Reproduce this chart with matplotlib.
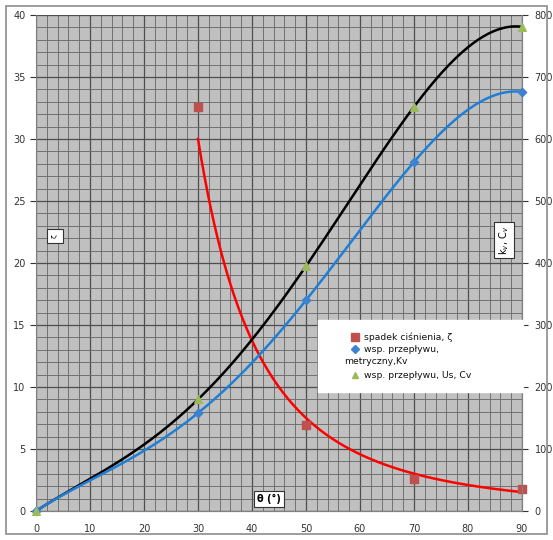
import numpy as np
import matplotlib
matplotlib.use("Agg")
import matplotlib.pyplot as plt
from matplotlib.ticker import MultipleLocator
from matplotlib.lines import Line2D
from matplotlib.patches import Rectangle

# --- data ---
angle_zeta = [30, 50, 70, 90]
zeta = [32.6, 6.9, 2.55, 1.8]            # spadek ciśnienia (left axis)

angle_flow = [0, 30, 50, 70, 90]
kv = [0, 158, 340, 563, 676]             # wsp. przepływu metryczny Kv (right axis)
cv = [0, 180, 395, 652, 781]             # wsp. przepływu Us Cv (right axis)

x_ticks = list(range(0, 91, 10))
left_ticks = list(range(0, 41, 5))
right_ticks = list(range(0, 801, 100))

legend_labels = ["spadek ciśnienia, ζ", "wsp. przepływu,", "metryczny,Kv", "wsp. przepływu, Us, Cv"]

plt.rcParams['font.family'] = ['DejaVu Sans']

W, H = 553, 540
def fx(px): return px / W
def fy(py): return 1 - py / H

fig = plt.figure(figsize=(W/100, H/100), dpi=100)
fig.patches.append(Rectangle((fx(6), fy(534)), 541/W, 528/H, transform=fig.transFigure,
                             fill=False, edgecolor='#8c8c8c', lw=1.2))
ax = fig.add_axes([fx(36), fy(511), 486/W, 496/H])
ax.set_facecolor('#c0c0c0')
ax.set_xlim(0, 90)
ax.set_ylim(0, 40)
ax.set_xticks(x_ticks)
ax.set_yticks(left_ticks)
ax.xaxis.set_minor_locator(MultipleLocator(2))
ax.yaxis.set_minor_locator(MultipleLocator(1))
ax.grid(which='minor', color='#6c6c6c', lw=0.65, ls='-')
ax.grid(which='major', color='#4e4e4e', lw=0.9, ls='-')
ax.set_axisbelow(True)
ax.tick_params(which='minor', length=0)
ax.tick_params(which='major', labelsize=7, colors='#333333', length=4, width=0.8)
ax.tick_params(axis='x', length=0, pad=9)
ax.spines['top'].set_visible(False)
for s in ['left', 'bottom', 'right']:
    ax.spines[s].set_color('#808080')

# power trendline for zeta (like Excel's power trend)
lx, ly = np.log(angle_zeta), np.log(zeta)
b, lna = np.polyfit(lx, ly, 1)
xs = np.linspace(angle_zeta[0], angle_zeta[-1], 200)
ax.plot(xs, np.exp(lna) * xs ** b, color='#ff0000', lw=1.8, zorder=3)
ax.scatter(angle_zeta, zeta, marker='s', s=40, color='#c0504d', zorder=4, clip_on=False)

ax2 = ax.twinx()
ax2.set_ylim(0, 800)
ax2.set_yticks(right_ticks)
ax2.tick_params(labelsize=7, colors='#333333', length=4, width=0.8, pad=5)
for s in ['top', 'left']:
    ax2.spines[s].set_visible(False)
ax2.spines['right'].set_color('#808080')
ax2.spines['bottom'].set_color('#808080')

# polynomial trendlines (order 4) for the flow coefficients
xf = np.linspace(0, 90, 300)
pc = np.polyfit(angle_flow, cv, 4)
pk = np.polyfit(angle_flow, kv, 4)
ax2.plot(xf, np.polyval(pc, xf), color='black', lw=1.8, zorder=3)
ax2.plot(xf, np.polyval(pk, xf), color='#1f7fd6', lw=1.8, zorder=3)
ax2.scatter(angle_flow, kv, marker='D', s=18, color='#3c82d0', zorder=4, clip_on=False)
ax2.scatter(angle_flow, cv, marker='^', s=30, color='#9bbb59', zorder=4, clip_on=False)

# axis title boxes
fig.text(fx(269), fy(499), "θ (°)", fontsize=7, fontweight='bold', ha='center', va='center',
         bbox=dict(boxstyle='square,pad=0.35', fc='white', ec='#333333', lw=0.8))
fig.text(fx(55), fy(236), "ζ", fontsize=5, rotation=90, ha='center', va='center',
         bbox=dict(boxstyle='square,pad=0.7', fc='white', ec='#333333', lw=0.8))
fig.text(fx(504), fy(240), "k$_v$, C$_v$", fontsize=7, rotation=90, ha='center', va='center',
         bbox=dict(boxstyle='square,pad=0.3', fc='white', ec='#333333', lw=0.8))

# legend (drawn manually so the wrapped line starts at the left like in the reference)
fig.patches.append(Rectangle((fx(318), fy(392)), 205/W, 72/H, transform=fig.transFigure,
                             fc='white', ec='white', zorder=5))
leg_markers = [('s', '#c0504d', 6, 337), ('D', '#3c82d0', 4, 349), ('^', '#9bbb59', 5, 375)]
for m, c, ms, py in leg_markers:
    fig.add_artist(Line2D([fx(355)], [fy(py)], marker=m, color=c, ms=ms, ls='none',
                          transform=fig.transFigure, zorder=6))
text_pos = [(364, 337), (364, 349), (344, 362), (364, 375)]
for lab, (px, py) in zip(legend_labels, text_pos):
    fig.text(fx(px), fy(py), lab, fontsize=6.7, ha='left', va='center', color='#111111', zorder=6)

fig.savefig('out.png', dpi=100)
